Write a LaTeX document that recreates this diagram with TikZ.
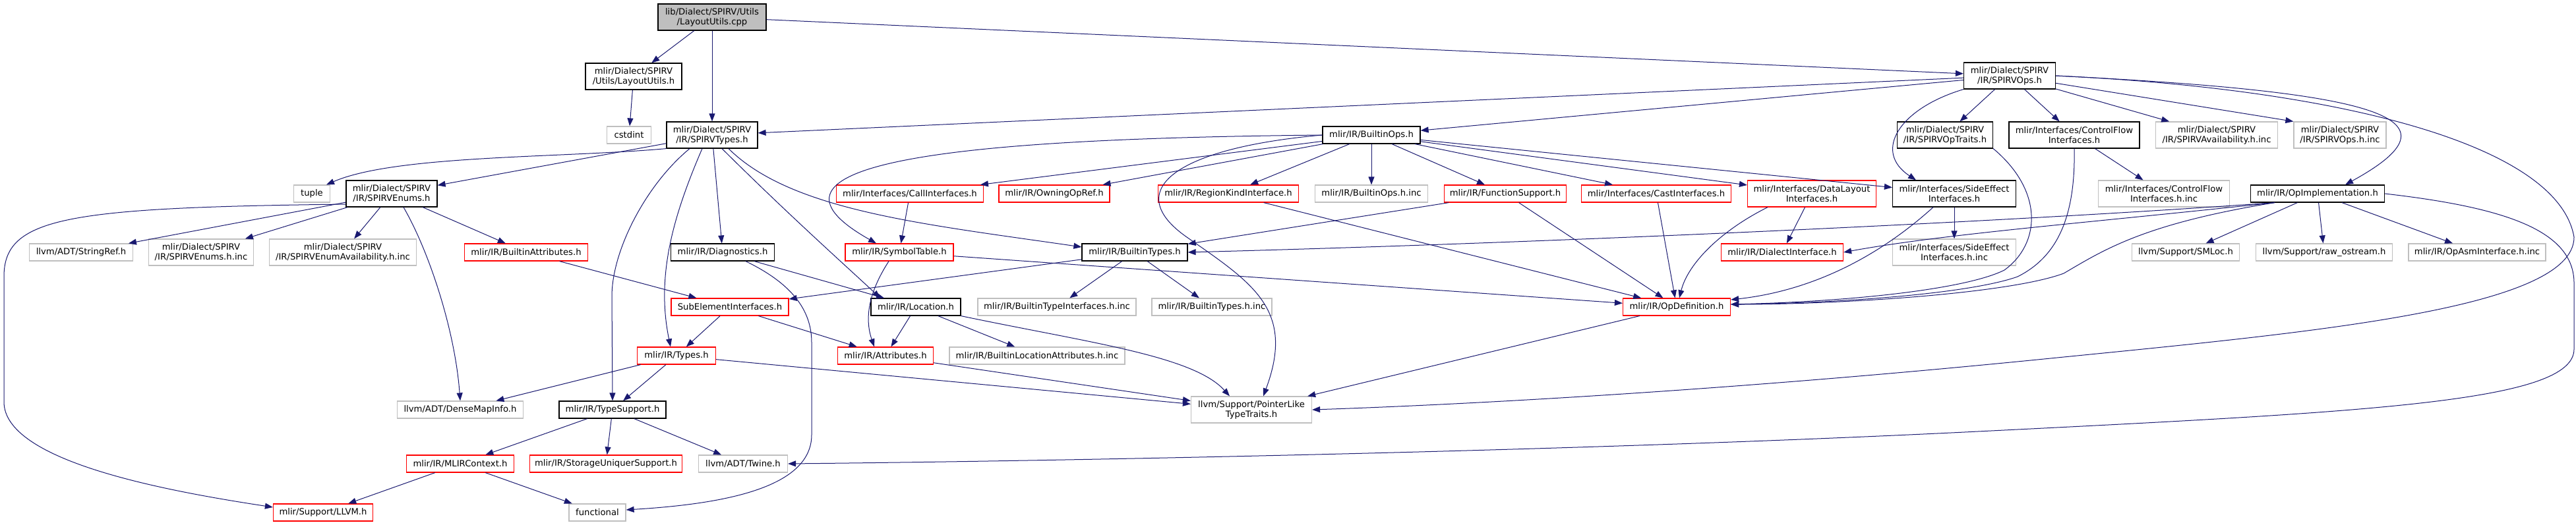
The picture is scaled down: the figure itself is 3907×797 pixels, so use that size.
\documentclass[tikz,border=0pt]{standalone}
\usepackage{fontspec}
\newfontfamily\dejavu{DejaVu Sans}
\usetikzlibrary{arrows.meta}
\definecolor{edgeblue}{HTML}{191970}
\definecolor{boxgrey}{HTML}{BFBFBF}
\tikzset{
  file/.style={draw=black, line width=1.2pt, rectangle, inner sep=0pt, minimum height=26pt, align=center, font={\dejavu\fontsize{13.2}{15}\selectfont}},
  twoline/.style={minimum height=40pt},
  trunc/.style={file, draw=red},
  sys/.style={file, draw=boxgrey},
  rootfile/.style={file, fill=boxgrey},
  inc/.style={->, draw=edgeblue, line width=1pt}
}
\begin{document}
\begin{tikzpicture}[x=1pt, y=-1pt, >={Triangle[length=12pt,width=9pt]}]
\useasboundingbox (0,0) rectangle (3907,797);

\node[rootfile, twoline, minimum width=164] (cpp) at (1080,26) {lib/Dialect/SPIRV/Utils\\/LayoutUtils.cpp};

\node[file, twoline, minimum width=146] (layouth) at (961,116) {mlir/Dialect/SPIRV\\/Utils/LayoutUtils.h};
\node[file, twoline, minimum width=139] (spirvops) at (3048,115) {mlir/Dialect/SPIRV\\/IR/SPIRVOps.h};

\node[sys, minimum width=67] (cstdint) at (954,205) {cstdint};
\node[file, twoline, minimum width=138] (spirvtypes) at (1080,205) {mlir/Dialect/SPIRV\\/IR/SPIRVTypes.h};
\node[file, minimum width=148] (builtinops) at (2080,205) {mlir/IR/BuiltinOps.h};
\node[file, twoline, minimum width=145] (optraits) at (2950,205) {mlir/Dialect/SPIRV\\/IR/SPIRVOpTraits.h};
\node[file, twoline, minimum width=198] (ctrlflow) at (3146,205) {mlir/Interfaces/ControlFlow\\Interfaces.h};
\node[sys, twoline, minimum width=185] (avail) at (3362,205) {mlir/Dialect/SPIRV\\/IR/SPIRVAvailability.h.inc};
\node[sys, twoline, minimum width=140] (opsinc) at (3549,205) {mlir/Dialect/SPIRV\\/IR/SPIRVOps.h.inc};

\node[sys, minimum width=55] (tuple) at (473,294) {tuple};
\node[file, twoline, minimum width=138] (spirvenums) at (594,294) {mlir/Dialect/SPIRV\\/IR/SPIRVEnums.h};
\node[trunc, minimum width=223] (callif) at (1380,294) {mlir/Interfaces/CallInterfaces.h};
\node[trunc, minimum width=168] (owningopref) at (1599,294) {mlir/IR/OwningOpRef.h};
\node[trunc, minimum width=213] (regionkind) at (1863,294) {mlir/IR/RegionKindInterface.h};
\node[sys, minimum width=171] (builtinopsinc) at (2080,294) {mlir/IR/BuiltinOps.h.inc};
\node[trunc, minimum width=185] (funcsupport) at (2283,294) {mlir/IR/FunctionSupport.h};
\node[trunc, minimum width=227] (castif) at (2512,294) {mlir/Interfaces/CastInterfaces.h};
\node[trunc, twoline, minimum width=195] (datalayout) at (2748,294) {mlir/Interfaces/DataLayout\\Interfaces.h};
\node[file, twoline, minimum width=187] (sideeffect) at (2964,294) {mlir/Interfaces/SideEffect\\Interfaces.h};
\node[sys, twoline, minimum width=199] (ctrlflowinc) at (3282,294) {mlir/Interfaces/ControlFlow\\Interfaces.h.inc};
\node[file, minimum width=203] (opimpl) at (3515,294) {mlir/IR/OpImplementation.h};

\node[sys, minimum width=157] (stringref) at (123,383) {llvm/ADT/StringRef.h};
\node[sys, twoline, minimum width=159] (enumsinc) at (305,383) {mlir/Dialect/SPIRV\\/IR/SPIRVEnums.h.inc};
\node[sys, twoline, minimum width=223] (enumavail) at (520,383) {mlir/Dialect/SPIRV\\/IR/SPIRVEnumAvailability.h.inc};
\node[trunc, minimum width=187] (builtinattrs) at (798,383) {mlir/IR/BuiltinAttributes.h};
\node[file, minimum width=157] (diagnostics) at (1096,383) {mlir/IR/Diagnostics.h};
\node[trunc, minimum width=164] (symboltable) at (1364,383) {mlir/IR/SymbolTable.h};
\node[file, minimum width=160] (builtintypes) at (1721,383) {mlir/IR/BuiltinTypes.h};
\node[trunc, minimum width=185] (dialectif) at (2703,383) {mlir/IR/DialectInterface.h};
\node[sys, twoline, minimum width=187] (sideeffectinc) at (2964,383) {mlir/Interfaces/SideEffect\\Interfaces.h.inc};
\node[sys, minimum width=163] (smloc) at (3315,383) {llvm/Support/SMLoc.h};
\node[sys, minimum width=207] (rawostream) at (3525,383) {llvm/Support/raw\_ostream.h};
\node[sys, minimum width=208] (opasmif) at (3757,383) {mlir/IR/OpAsmInterface.h.inc};

\node[trunc, minimum width=178] (subelem) at (1107,466) {SubElementInterfaces.h};
\node[file, minimum width=136] (location) at (1389,466) {mlir/IR/Location.h};
\node[sys, minimum width=240] (typeifinc) at (1603,466) {mlir/IR/BuiltinTypeInterfaces.h.inc};
\node[sys, minimum width=182] (builtintypesinc) at (1838,466) {mlir/IR/BuiltinTypes.h.inc};
\node[trunc, minimum width=163] (opdef) at (2543,466) {mlir/IR/OpDefinition.h};

\node[trunc, minimum width=119] (types) at (1026,540) {mlir/IR/Types.h};
\node[trunc, minimum width=145] (attributes) at (1343,540) {mlir/IR/Attributes.h};
\node[sys, minimum width=266] (locattrinc) at (1573,540) {mlir/IR/BuiltinLocationAttributes.h.inc};

\node[sys, minimum width=191] (densemap) at (698,622) {llvm/ADT/DenseMapInfo.h};
\node[file, minimum width=162] (typesupport) at (929,622) {mlir/IR/TypeSupport.h};
\node[sys, twoline, minimum width=183] (pointerlike) at (1898,622) {llvm/Support/PointerLike\\TypeTraits.h};

\node[trunc, minimum width=163] (mlircontext) at (698,704) {mlir/IR/MLIRContext.h};
\node[trunc, minimum width=231] (storage) at (919,704) {mlir/IR/StorageUniquerSupport.h};
\node[sys, minimum width=135] (twine) at (1127,704) {llvm/ADT/Twine.h};

\node[trunc, minimum width=151] (llvmh) at (490,778) {mlir/Support/LLVM.h};
\node[sys, minimum width=86] (functional) at (906,778) {functional};

\draw[inc] (cpp) -- (layouth);
\draw[inc] (cpp) -- (spirvtypes);
\draw[inc] (cpp) -- (spirvops);
\draw[inc] (layouth) -- (cstdint);

\draw[inc] (spirvops) -- (spirvtypes);
\draw[inc] (spirvops) -- (builtinops);
\draw[inc] (spirvops) -- (optraits);
\draw[inc] (spirvops) -- (ctrlflow);
\draw[inc] (spirvops) -- (avail);
\draw[inc] (spirvops) -- (opsinc.north west);
\draw[inc] (spirvops.east) .. controls (3620,140) and (3740,180) .. ([xshift=42]opimpl.north);
\draw[inc] (spirvops.south west) .. controls (2880,165) and (2840,230) .. ([xshift=-58]sideeffect.north);
\draw[inc] (spirvops.east) .. controls (3550,135) and (3880,220) .. (3904,360)
  .. controls (3904,470) and (3500,505) .. (3100,545)
  .. controls (2600,595) and (2200,615) .. (pointerlike.east);

\draw[inc] (spirvtypes.south west) .. controls (850,240) and (600,235) .. ([xshift=22]tuple.north);
\draw[inc] (spirvtypes) -- (spirvenums);
\draw[inc] ([xshift=-34]spirvtypes.south) .. controls (980,280) and (928,380) .. (928,450) -- (typesupport.north);
\draw[inc] ([xshift=-15]spirvtypes.south) .. controls (1020,330) and (995,420) .. ([xshift=-9]types.north);
\draw[inc] (spirvtypes) -- (diagnostics);
\draw[inc] ([xshift=15]spirvtypes.south) .. controls (1200,330) and (1290,410) .. ([xshift=-54]location.north);
\draw[inc] ([xshift=25]spirvtypes.south) .. controls (1200,320) and (1400,340) .. ([yshift=8]builtintypes.west);

\draw[inc] (builtinops) -- (callif);
\draw[inc] (builtinops) -- (owningopref);
\draw[inc] (builtinops) -- (regionkind);
\draw[inc] (builtinops) -- (builtinopsinc);
\draw[inc] (builtinops) -- (funcsupport);
\draw[inc] (builtinops) -- (castif);
\draw[inc] (builtinops) -- (datalayout);
\draw[inc] (builtinops) -- (sideeffect);
\draw[inc] (builtinops.west) .. controls (1500,210) and (1100,240) .. ([xshift=-35]symboltable.north);
\draw[inc] (builtinops.west) .. controls (1780,225) and (1700,290) .. (1800,360)
  .. controls (1900,430) and (1965,470) .. ([xshift=18]pointerlike.north);

\draw[inc] (optraits.south east) .. controls (3100,290) and (3095,370) .. (3040,410)
  .. controls (2980,440) and (2800,458) .. ([yshift=4]opdef.east);
\draw[inc] (ctrlflow) -- (ctrlflowinc);
\draw[inc] (ctrlflow.south) .. controls (3148,330) and (3120,390) .. (3060,420)
  .. controls (2990,445) and (2800,460) .. ([yshift=4]opdef.east);

\draw[inc] (spirvenums) -- (stringref);
\draw[inc] (spirvenums) -- (enumsinc);
\draw[inc] (spirvenums) -- (enumavail);
\draw[inc] (spirvenums) -- (builtinattrs);
\draw[inc] ([xshift=18]spirvenums.south) .. controls (650,380) and (690,500) .. (densemap.north);
\draw[inc] ([yshift=-16]spirvenums.west) .. controls (100,315) and (6,330) .. (6,420) -- (6,610)
  .. controls (6,700) and (250,745) .. ([yshift=8]llvmh.west);

\draw[inc] (callif) -- (symboltable);
\draw[inc] (regionkind) -- (opdef);
\draw[inc] (funcsupport) -- (builtintypes);
\draw[inc] (funcsupport) -- (opdef);
\draw[inc] (castif) -- (opdef);
\draw[inc] (datalayout) -- (dialectif);
\draw[inc] ([xshift=-67]datalayout.south) .. controls (2610,350) and (2560,400) .. ([xshift=4]opdef.north);
\draw[inc] (sideeffect) -- (sideeffectinc);
\draw[inc] ([xshift=-32]sideeffect.south) .. controls (2860,380) and (2760,440) .. ([yshift=11]opdef.east);

\draw[inc] (opimpl) -- (smloc);
\draw[inc] (opimpl) -- (rawostream);
\draw[inc] (opimpl) -- (opasmif);
\draw[inc] ([xshift=-65]opimpl.south) .. controls (3000,340) and (2300,370) .. (builtintypes.east);
\draw[inc] ([xshift=-65]opimpl.south) .. controls (3150,340) and (2950,355) .. (dialectif.east);
\draw[inc] ([xshift=-65]opimpl.south) .. controls (3250,340) and (3190,380) .. (3130,415)
  .. controls (3050,445) and (2800,462) .. ([yshift=4]opdef.east);
\draw[inc] (opimpl.east) .. controls (3800,315) and (3904,350) .. (3904,430) -- (3904,530)
  .. controls (3904,610) and (3600,625) .. (3000,655)
  .. controls (2400,685) and (1600,700) .. (twine.east);

\draw[inc] (builtinattrs) -- (subelem);
\draw[inc] (diagnostics) -- (location);
\draw[inc] ([xshift=35]diagnostics.south) .. controls (1200,430) and (1231,470) .. (1231,520) -- (1231,660)
  .. controls (1231,740) and (1100,765) .. ([yshift=4]functional.east);
\draw[inc] (symboltable) -- (opdef);
\draw[inc] ([xshift=-16]symboltable.south) .. controls (1320,440) and (1310,480) .. ([xshift=-17]attributes.north);
\draw[inc] (builtintypes) -- (subelem);
\draw[inc] (builtintypes) -- (typeifinc);
\draw[inc] (builtintypes) -- (builtintypesinc);

\draw[inc] (subelem) -- (types);
\draw[inc] (subelem) -- (attributes);
\draw[inc] (location) -- (attributes);
\draw[inc] (location) -- (locattrinc);
\draw[inc] (location.south east) .. controls (1650,520) and (1810,540) .. ([xshift=-33]pointerlike.north);
\draw[inc] (opdef) -- (pointerlike);

\draw[inc] (types) -- (densemap);
\draw[inc] (types) -- (typesupport);
\draw[inc] (types) -- (pointerlike);
\draw[inc] (attributes) -- (pointerlike);

\draw[inc] (typesupport) -- (mlircontext);
\draw[inc] (typesupport) -- (storage);
\draw[inc] (typesupport) -- (twine);
\draw[inc] (mlircontext) -- (llvmh);
\draw[inc] (mlircontext) -- (functional);
\end{tikzpicture}
\end{document}
